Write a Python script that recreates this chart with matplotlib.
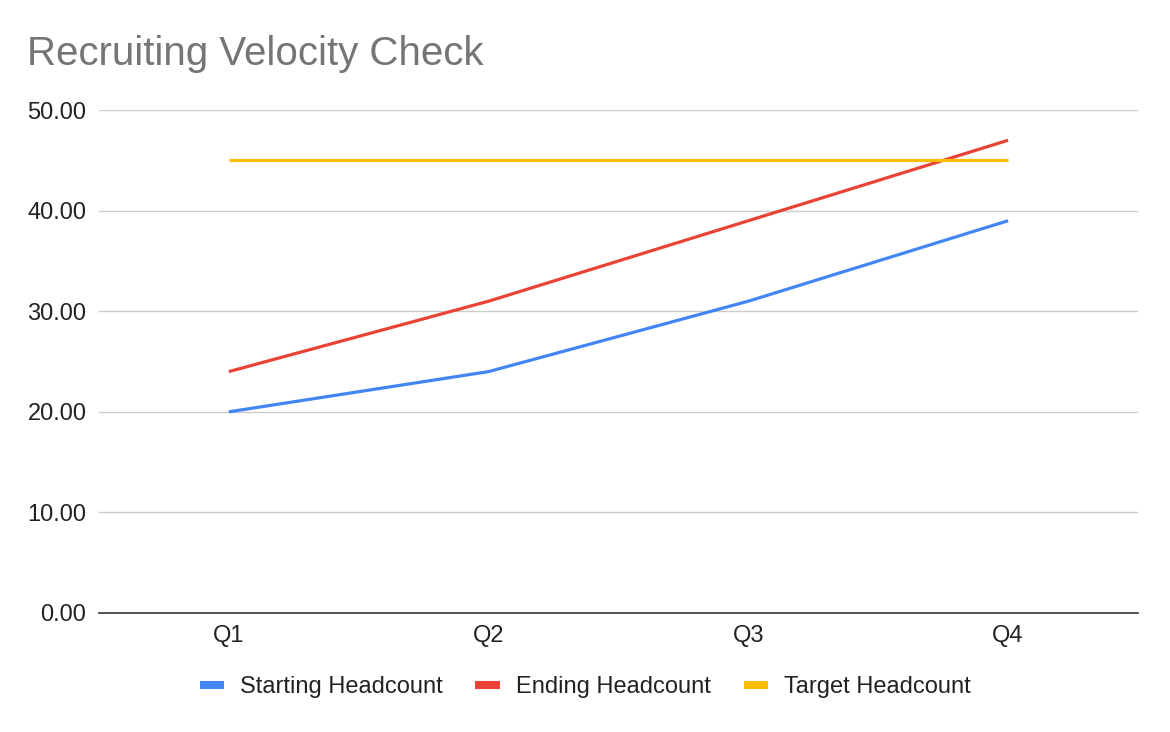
import matplotlib
matplotlib.use("Agg")
import matplotlib.pyplot as plt
from matplotlib.ticker import FormatStrFormatter

plt.rcParams['font.family'] = ['Liberation Sans', 'DejaVu Sans']

categories = ["Q1", "Q2", "Q3", "Q4"]
starting = [20, 24, 31, 39]
ending = [24, 31, 39, 47]
target = [45, 45, 45, 45]
series_names = ["Starting Headcount", "Ending Headcount", "Target Headcount"]
colors = ["#4285F4", "#EA4335", "#FBBC04"]

fig = plt.figure(figsize=(11.7, 7.32), dpi=100)
ax = fig.add_axes([0.0846, 0.1626, 0.888, 0.687])

x = list(range(len(categories)))
for vals, name, c in zip([starting, ending, target], series_names, colors):
    ax.plot(x, vals, color=c, lw=2.3, label=name, solid_capstyle='butt')

ax.set_xlim(-0.5, len(categories) - 0.5)
ax.set_ylim(0, 50)
ax.set_yticks([0, 10, 20, 30, 40, 50])
ax.yaxis.set_major_formatter(FormatStrFormatter('%.2f'))
ax.set_xticks(x)
ax.set_xticklabels(categories)
ax.grid(axis='y', color='#CCCCCC', lw=1)
ax.set_axisbelow(True)
for s in ['left', 'right', 'top']:
    ax.spines[s].set_visible(False)
ax.spines['bottom'].set_color('#333333')
ax.spines['bottom'].set_linewidth(1.2)
ax.tick_params(axis='y', length=0, pad=9, labelsize=17, labelcolor='#222222')
ax.tick_params(axis='x', length=0, pad=9, labelsize=17, labelcolor='#222222')

fig.text(27 / 1170, 1 - 65 / 732, "Recruiting Velocity Check", fontsize=29,
         color='#757575', va='baseline', ha='left')

leg = fig.legend(loc='center', bbox_to_anchor=(0.5, 45 / 732), ncol=3, frameon=False,
                 fontsize=17, handlelength=1.02, handletextpad=0.68, columnspacing=1.4)
for line in leg.get_lines():
    line.set_linewidth(5.8)
for t in leg.get_texts():
    t.set_color('#222222')

fig.savefig("out.png", dpi=100)
